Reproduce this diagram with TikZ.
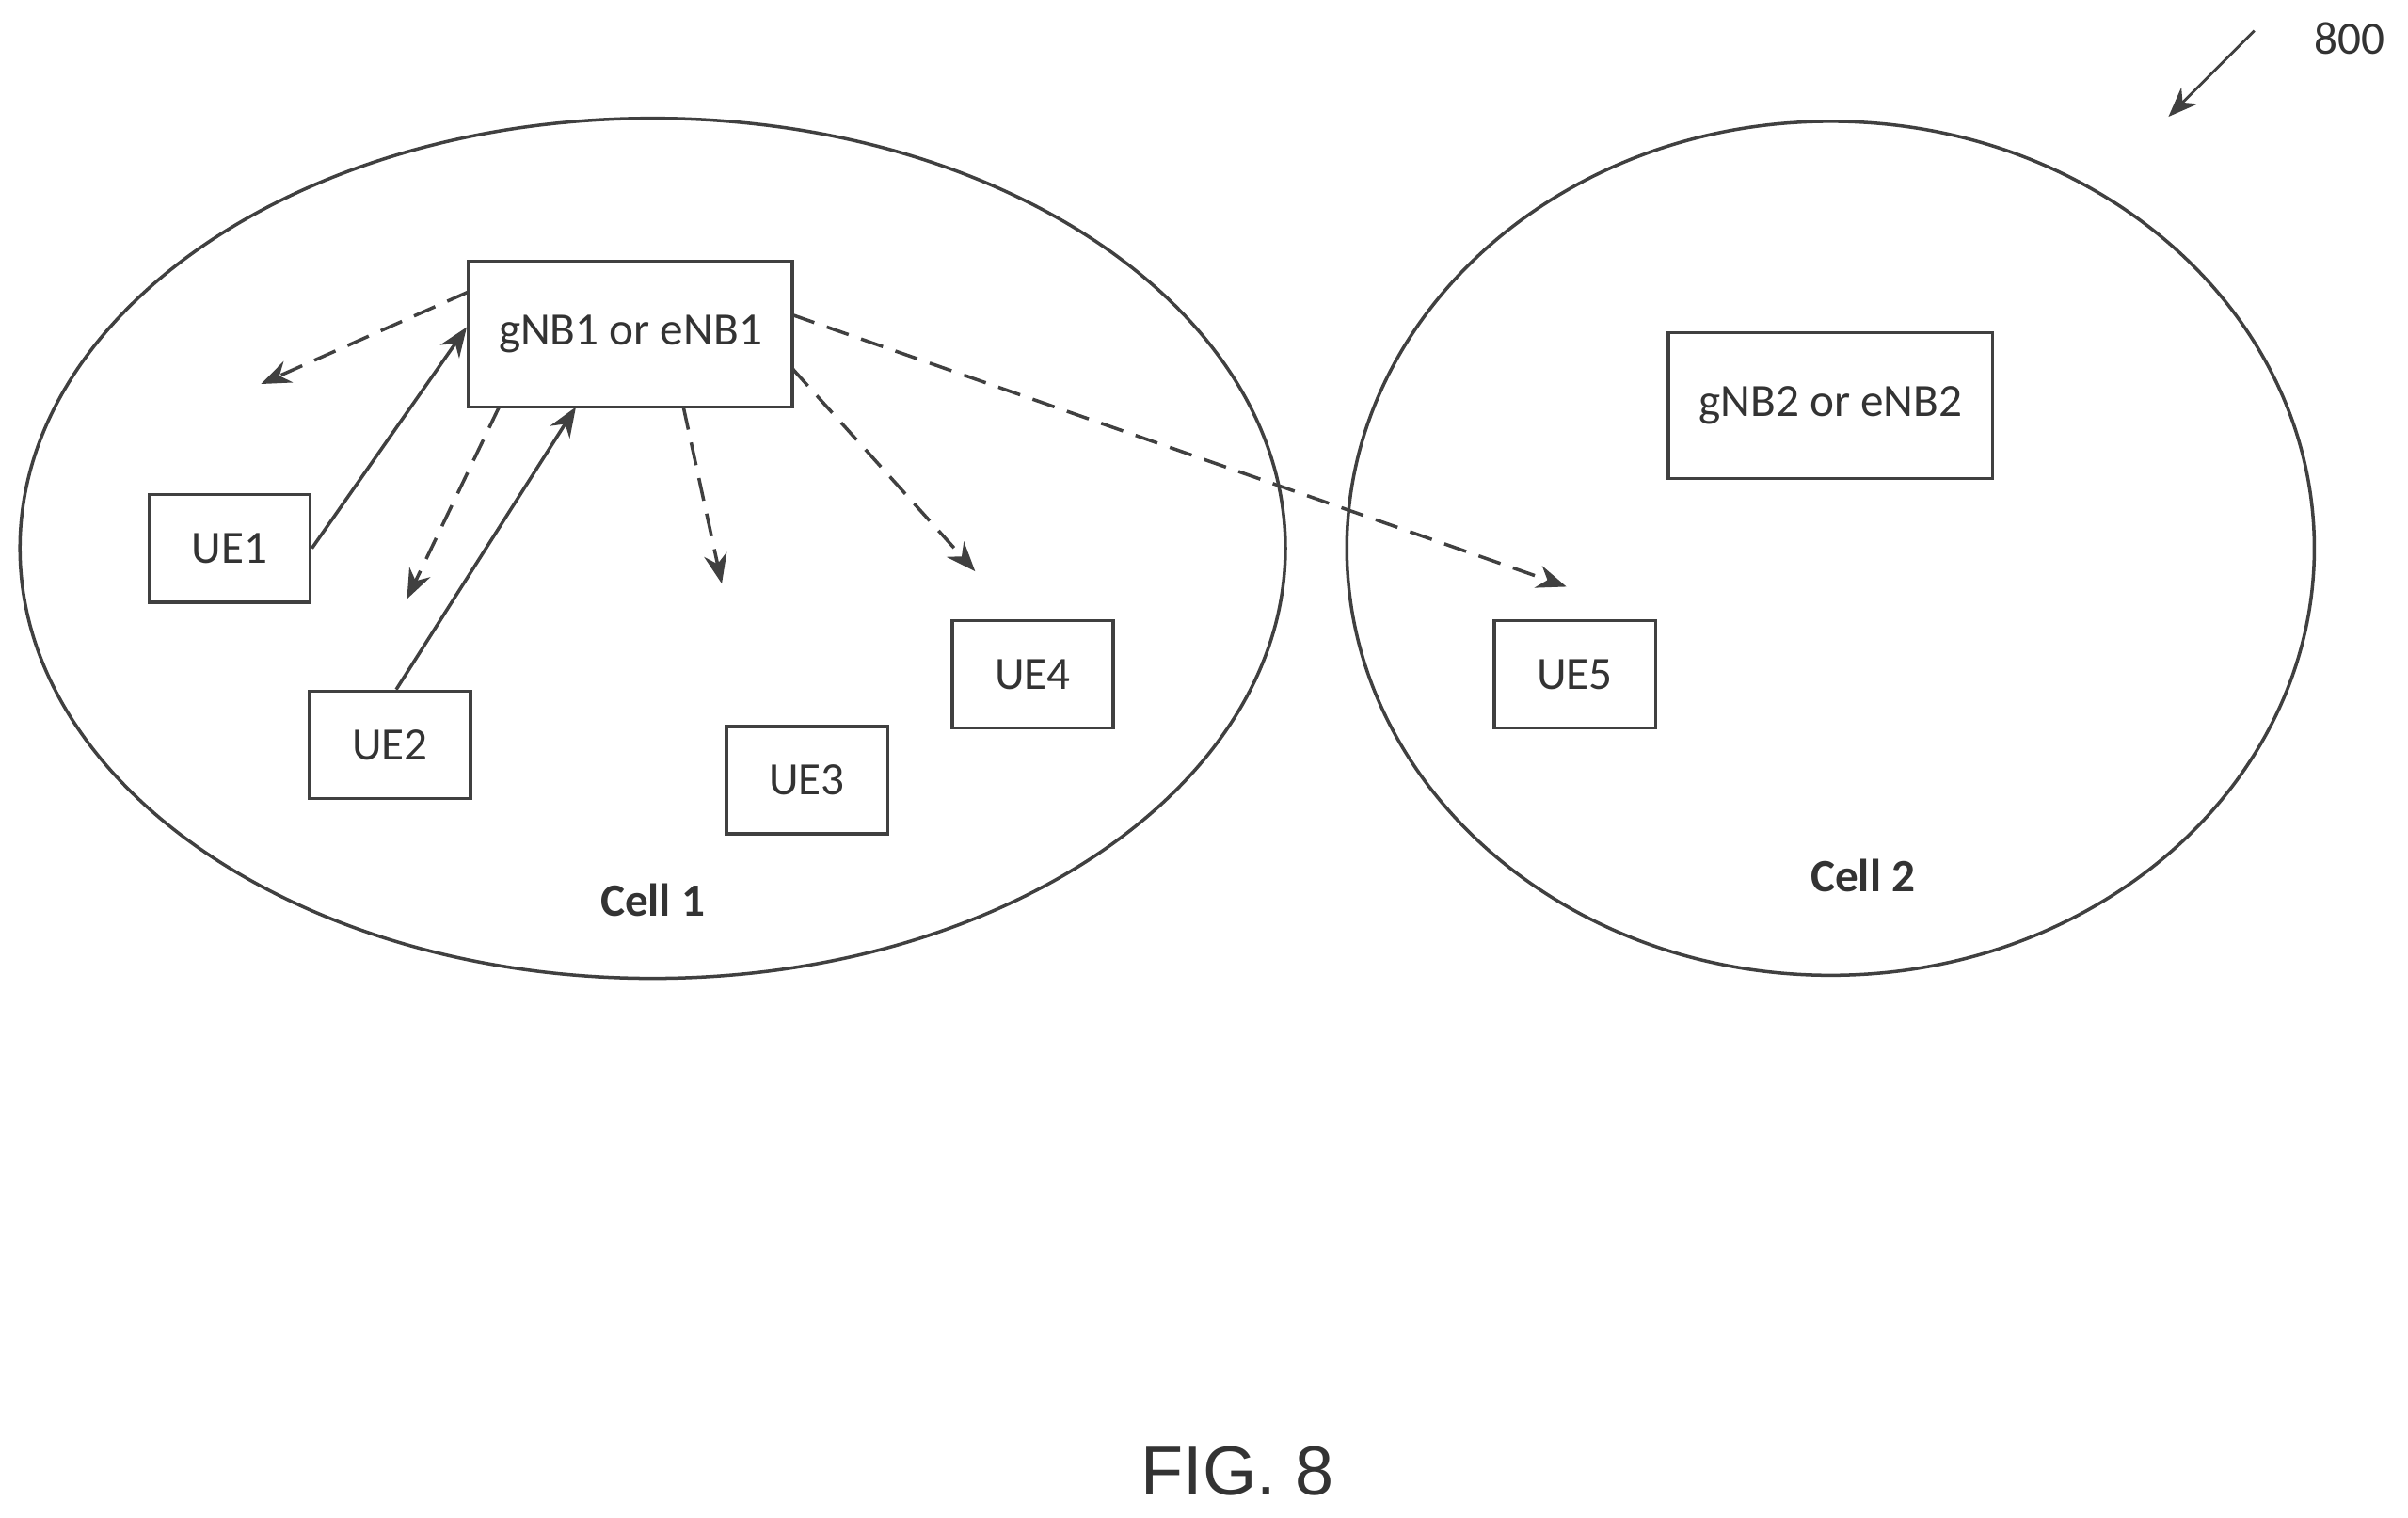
\documentclass[tikz,border=0pt]{standalone}
\usepackage{fontspec}
\setmainfont{Carlito}
\newfontfamily\figfont{Liberation Sans}
\usetikzlibrary{arrows.meta}
\tikzset{
  box/.style={draw=black!75,line width=1pt,minimum width=105*0.01632cm,minimum height=70*0.01632cm,inner sep=0pt,font=\fontsize{14}{16}\selectfont,text=black!80},
  bs/.style={box,minimum width=211*0.01632cm,minimum height=95*0.01632cm},
  cell/.style={draw=black!75,line width=1pt},
  sig/.style={draw=black!75,line width=1pt,-{Stealth[length=9pt,width=7pt]}},
  dsig/.style={sig,dash pattern=on 7pt off 4pt}
}
\begin{document}
\begin{tikzpicture}[x=0.01632cm,y=-0.01632cm]
  \useasboundingbox (0,0) rectangle (1568,988);
  % cells
  \draw[cell] (425,357) ellipse [x radius=412,y radius=280];
  \draw[cell] (1192,357) ellipse [x radius=315,y radius=278];
  \node[font=\bfseries\fontsize{14}{16}\selectfont,text=black!80] (cell1) at (425,586) {Cell 1};
  \node[font=\bfseries\fontsize{14}{16}\selectfont,text=black!80] (cell2) at (1213,570) {Cell 2};
  % base stations and UEs
  \node[bs] (gnb1) at (410.5,217.5) {gNB1 or eNB1};
  \node[bs] (gnb2) at (1192,264) {gNB2 or eNB2};
  \node[box] (ue1) at (149.5,357) {UE1};
  \node[box] (ue2) at (254,485) {UE2};
  \node[box] (ue3) at (525.5,508) {UE3};
  \node[box] (ue4) at (672.5,439) {UE4};
  \node[box] (ue5) at (1025.5,439) {UE5};
  % free ends
  \coordinate (b0) at (170,250);
  \coordinate (b2) at (265,390);
  \coordinate (b3) at (470,380);
  \coordinate (b4) at (635,372);
  \coordinate (b5) at (1020,382);
  % uplink
  \draw[sig] (ue1.east) -- (gnb1.west |- 0,213);
  \draw[sig] (ue2.north) ++(4,0) -- (375,265);
  % downlink
  \draw[dsig] (305,190) -- (b0);
  \draw[dsig] (325,265) -- (b2);
  \draw[dsig] (445,265) -- (b3);
  \draw[dsig] (516,240) -- (b4);
  \draw[dsig] (516,205) -- (b5);
  % reference numeral
  \node[font=\fontsize{14}{16}\selectfont,text=black!80] (ref) at (1530,25) {800};
  \coordinate (refend) at (1412,76);
  \draw[sig,line width=0.8pt] (1468,20) -- (refend);
  \node[font=\figfont\fontsize{21}{24}\selectfont,text=black!80] (fig) at (806,958) {FIG. 8};
\end{tikzpicture}
\end{document}
